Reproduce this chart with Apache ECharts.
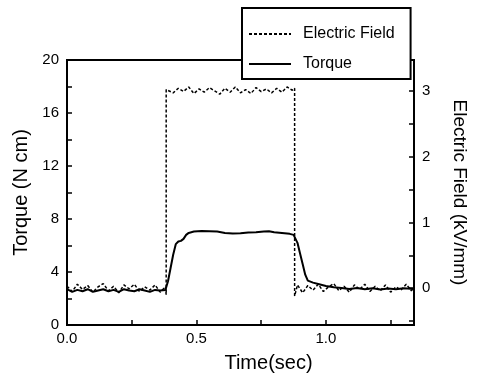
<!DOCTYPE html>
<html>
<head>
<meta charset="utf-8">
<script src="https://cdn.jsdelivr.net/npm/echarts@6/dist/echarts.min.js"></script>
<style>
  html, body { margin: 0; padding: 0; background: #fff; }
  #chart { width: 477px; height: 380px; }
</style>
</head>
<body>
<div id="chart"></div>
<script>
// 电场阶跃 [时间(s), kV/mm]
const fieldPoints = [
  [0.00, 0.03], [0.02, -0.05], [0.04, 0.06], [0.06, -0.02], [0.08, 0.04],
  [0.10, -0.06], [0.12, 0.02], [0.14, 0.07], [0.16, -0.04], [0.18, 0.03],
  [0.20, -0.07], [0.22, 0.05], [0.24, -0.01], [0.26, 0.06], [0.28, -0.05],
  [0.30, 0.02], [0.32, -0.03], [0.34, 0.05], [0.36, -0.06], [0.38, 0.02],
  [0.383, -0.10], [0.383, 3.02],
  [0.39, 3.05], [0.41, 2.97], [0.43, 3.04], [0.45, 2.99], [0.47, 3.06],
  [0.49, 2.96], [0.51, 3.03], [0.53, 2.98], [0.55, 3.05], [0.57, 3.00],
  [0.59, 2.95], [0.61, 3.04], [0.63, 2.98], [0.65, 3.06], [0.67, 2.97],
  [0.69, 3.02], [0.71, 2.96], [0.73, 3.05], [0.75, 2.99], [0.77, 3.03],
  [0.79, 2.97], [0.81, 3.04], [0.83, 2.98], [0.85, 3.06], [0.87, 3.01],
  [0.879, 3.04], [0.879, -0.12],
  [0.89, 0.05], [0.91, -0.07], [0.93, 0.04], [0.95, -0.03], [0.97, 0.06],
  [0.99, -0.05], [1.01, 0.02], [1.03, 0.07], [1.05, -0.04], [1.07, 0.03],
  [1.09, -0.06], [1.11, 0.05], [1.13, -0.02], [1.15, 0.06], [1.17, -0.05],
  [1.19, 0.03], [1.21, -0.04], [1.23, 0.05], [1.25, -0.06], [1.27, 0.02],
  [1.29, -0.03], [1.31, 0.06], [1.33, -0.04], [1.34, 0.02]
]

// 扭矩 [时间(s), N cm]
const torquePoints = [
  [0.00, 2.70], [0.02, 2.50], [0.04, 2.65], [0.06, 2.55], [0.08, 2.70],
  [0.10, 2.50], [0.12, 2.60], [0.14, 2.70], [0.16, 2.55], [0.18, 2.65],
  [0.20, 2.50], [0.22, 2.70], [0.24, 2.60], [0.26, 2.55], [0.28, 2.70],
  [0.30, 2.60], [0.32, 2.50], [0.34, 2.65], [0.36, 2.60], [0.38, 2.65],
  [0.39, 3.30], [0.40, 4.30], [0.41, 5.30], [0.42, 6.10], [0.43, 6.30],
  [0.44, 6.35], [0.45, 6.50], [0.46, 6.80], [0.47, 6.95], [0.49, 7.05],
  [0.52, 7.10], [0.55, 7.08], [0.58, 7.05], [0.61, 6.95], [0.64, 6.90],
  [0.67, 6.92], [0.70, 6.98], [0.73, 7.00], [0.76, 7.05], [0.78, 7.08],
  [0.80, 7.00], [0.83, 6.95], [0.86, 6.88], [0.875, 6.80], [0.89, 6.20],
  [0.90, 5.40], [0.91, 4.60], [0.92, 3.80], [0.93, 3.35], [0.95, 3.20],
  [0.97, 3.10], [1.00, 2.95], [1.03, 2.85], [1.06, 2.80], [1.09, 2.72],
  [1.12, 2.80], [1.15, 2.70], [1.18, 2.78], [1.21, 2.68], [1.24, 2.76],
  [1.27, 2.70], [1.30, 2.78], [1.34, 2.72]
]

const seriesNames = ['Electric Field', 'Torque']

const FONT = '"Liberation Sans", Arial, sans-serif'

const chart = echarts.init(document.getElementById('chart'))

// 只显示 0.5 的整数倍
const halfLabel = (v) => Math.abs(v * 2 - Math.round(v * 2)) < 1e-6 ? v.toFixed(1) : ''

const option = {
  backgroundColor: '#fff',
  animation: false,
  grid: {
    left: 67,
    right: 53,
    top: 60,
    bottom: 55,
    show: true,
    borderColor: '#000',
    borderWidth: 2
  },
  legend: {
    data: seriesNames,
    orient: 'vertical',
    left: 242,
    top: 8,
    padding: [18, 16, 7, 6],
    itemGap: 14,
    itemWidth: 42,
    itemHeight: 14,
    backgroundColor: '#fff',
    borderColor: '#000',
    borderWidth: 2,
    borderRadius: 0,
    z: 10,
    // 图例里只画线，不画圆点
    itemStyle: { opacity: 0 },
    textStyle: {
      fontFamily: FONT,
      fontSize: 16,
      color: '#000',
      padding: [0, 0, 0, 7]
    }
  },
  xAxis: {
    type: 'value',
    min: 0,
    max: 1.34,
    interval: 0.25,
    name: 'Time(sec)',
    nameLocation: 'middle',
    nameGap: 28,
    nameTextStyle: { fontFamily: FONT, fontSize: 20, color: '#000', padding: [0, 0, 0, 56] },
    axisLine: { lineStyle: { color: '#000', width: 2 } },
    axisTick: { inside: true, length: 5, lineStyle: { color: '#000', width: 1.5 } },
    axisLabel: {
      fontFamily: FONT, fontSize: 15, color: '#000', margin: 6,
      showMaxLabel: false, formatter: halfLabel
    },
    splitLine: { show: false }
  },
  yAxis: [
    {
      type: 'value',
      min: 0,
      max: 20,
      interval: 2,
      name: 'Torque (N cm)',
      nameLocation: 'middle',
      nameGap: 28,
      nameTextStyle: { fontFamily: FONT, fontSize: 20, color: '#000' },
      axisLine: { show: true, lineStyle: { color: '#000', width: 2 } },
      axisTick: { inside: true, length: 5, lineStyle: { color: '#000', width: 1.5 } },
      axisLabel: {
        fontFamily: FONT, fontSize: 15, color: '#000', margin: 8,
        formatter: (v) => v % 4 === 0 ? String(v) : ''
      },
      splitLine: { show: false }
    },
    {
      type: 'value',
      min: -0.56,
      max: 3.47,
      minInterval: 0.5,
      maxInterval: 0.5,
      position: 'right',
      name: 'Electric Field (kV/mm)',
      nameLocation: 'middle',
      nameRotate: -90,
      nameGap: 36,
      nameTextStyle: { fontFamily: FONT, fontSize: 19, color: '#000' },
      axisLine: { show: true, lineStyle: { color: '#000', width: 2 } },
      axisTick: { inside: true, length: 5, lineStyle: { color: '#000', width: 1.5 } },
      axisLabel: {
        fontFamily: FONT, fontSize: 15, color: '#000', margin: 8,
        showMinLabel: false, showMaxLabel: false,
        formatter: (v) => Math.abs(v - Math.round(v)) < 1e-6 ? String(Math.round(v)) : ''
      },
      splitLine: { show: false }
    }
  ],
  series: [
    {
      name: seriesNames[0],
      type: 'line',
      yAxisIndex: 1,
      data: fieldPoints,
      symbol: 'none',
      lineStyle: { color: '#000', width: 1.5, type: [3, 2] },
      itemStyle: { color: '#000' }
    },
    {
      name: seriesNames[1],
      type: 'line',
      yAxisIndex: 0,
      data: torquePoints,
      symbol: 'none',
      lineStyle: { color: '#000', width: 2 },
      itemStyle: { color: '#000' }
    }
  ]
}

chart.setOption(option)
</script>
</body>
</html>
